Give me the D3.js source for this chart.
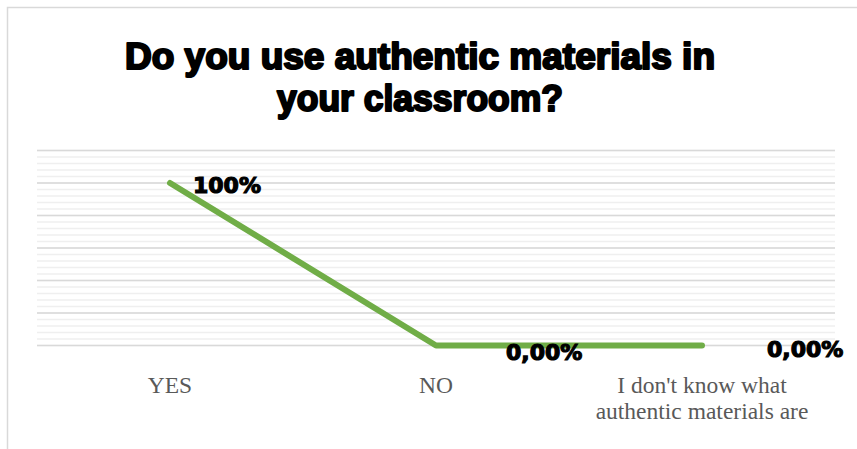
<!DOCTYPE html>
<html>
<head>
<meta charset="utf-8">
<script src="https://cdn.jsdelivr.net/npm/d3@7"></script>
<style>
  body { margin: 0; background: #fff; }
</style>
</head>
<body>
<div id="chart"></div>
<script>
// data
const categories = ["YES", "NO", "I don't know what authentic materials are"];
const categoryLines = [["YES"], ["NO"], ["I don't know what", "authentic materials are"]];
const values = [1.0, 0.0, 0.0];
const valueLabels = ["100%", "0,00%", "0,00%"];
const titleLines = ["Do you use authentic materials in", "your classroom?"];
const majorTicks = [0, 0.2, 0.4, 0.6, 0.8, 1.0, 1.2];

const width = 857, height = 449;
const plot = {left: 37, right: 835, top: 150.5, bottom: 345.5};

// label offsets from the point (labels were dragged in the original)
const labelDx = [23, 70, 65];
const labelDy = [10, 14, 11];

const svg = d3.select("#chart")
    .append("svg")
    .attr("width", width)
    .attr("height", height);

// outer frame
svg.append("rect")
    .attr("x", 7.5)
    .attr("y", 7.5)
    .attr("width", width + 10)
    .attr("height", height + 10)
    .attr("fill", "#fff")
    .attr("stroke", "#d9d9d9")
    .attr("stroke-width", 1.5);

const xScale = d3.scaleBand()
    .domain(categories)
    .range([plot.left, plot.right]);

const yScale = d3.scaleLinear()
    .domain([0, 1.2])
    .range([plot.bottom, plot.top]);

const minorTicks = d3.range(0, 1.2001, 0.04);

// minor gridlines
svg.append("g")
    .selectAll("line")
    .data(minorTicks)
    .enter()
    .append("line")
    .attr("x1", plot.left)
    .attr("x2", plot.right)
    .attr("y1", d => yScale(d))
    .attr("y2", d => yScale(d))
    .attr("stroke", "#efefef")
    .attr("stroke-width", 1.5);

// major gridlines
svg.append("g")
    .selectAll("line")
    .data(majorTicks)
    .enter()
    .append("line")
    .attr("x1", plot.left)
    .attr("x2", plot.right)
    .attr("y1", d => yScale(d))
    .attr("y2", d => yScale(d))
    .attr("stroke", "#d9d9d9")
    .attr("stroke-width", 1.5);

const cx = d => xScale(d) + xScale.bandwidth() / 2;

// line
const line = d3.line()
    .x((d, i) => cx(categories[i]))
    .y(d => yScale(d));

svg.append("path")
    .datum(values)
    .attr("d", line)
    .attr("fill", "none")
    .attr("stroke", "#70ad47")
    .attr("stroke-width", 6)
    .attr("stroke-linecap", "round")
    .attr("stroke-linejoin", "round");

// data labels
svg.append("g")
    .selectAll("text")
    .data(values)
    .enter()
    .append("text")
    .attr("x", (d, i) => cx(categories[i]) + labelDx[i])
    .attr("y", (d, i) => yScale(d) + labelDy[i])
    .attr("font-family", "'DejaVu Sans', sans-serif")
    .attr("font-weight", "bold")
    .attr("font-size", 22)
    .attr("fill", "#000")
    .attr("stroke", "#000")
    .attr("stroke-width", 1.2)
    .text((d, i) => valueLabels[i]);

// category labels
const catG = svg.append("g");
categories.forEach((c, i) => {
    const t = catG.append("text")
        .attr("x", cx(c))
        .attr("y", 393)
        .attr("text-anchor", "middle")
        .attr("font-family", "'Liberation Serif', 'Times New Roman', serif")
        .attr("font-size", 23.5)
        .attr("fill", "#595959");
    categoryLines[i].forEach((ln, j) => {
        t.append("tspan")
            .attr("x", cx(c))
            .attr("dy", j === 0 ? 0 : 25.5)
            .text(ln);
    });
});

// title
const titleWidths = [590, 286];
titleLines.forEach((ln, i) => {
    svg.append("text")
        .attr("x", 420)
        .attr("y", 69 + i * 42)
        .attr("text-anchor", "middle")
        .attr("font-family", "'Liberation Sans Narrow', 'Liberation Sans', sans-serif")
        .attr("font-weight", "bold")
        .attr("font-size", 37)
        .attr("fill", "#000")
        .attr("stroke", "#000")
        .attr("stroke-width", 2.2)
        .attr("stroke-linejoin", "round")
        .attr("textLength", titleWidths[i])
        .attr("lengthAdjust", "spacingAndGlyphs")
        .text(ln);
});
</script>
</body>
</html>
